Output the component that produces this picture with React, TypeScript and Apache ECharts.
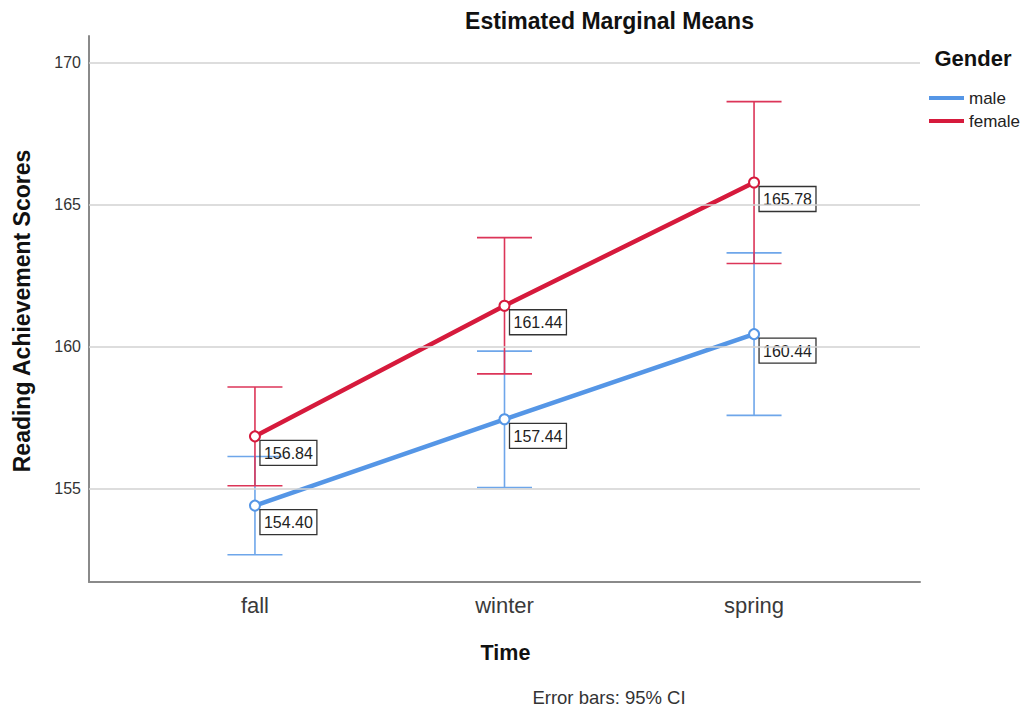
import React, { useEffect, useRef } from "react";
import * as echarts from "echarts";

const categories = ["fall", "winter", "spring"];
const categoryIndex = [0, 1, 2];
const maleMeans = [154.4, 157.44, 160.44];
const femaleMeans = [156.84, 161.44, 165.78];
const maleLower = [152.67, 155.04, 157.58];
const maleUpper = [156.13, 159.84, 163.3];
const femaleLower = [155.1, 159.04, 162.93];
const femaleUpper = [158.58, 163.84, 168.63];
const yTicks = [155, 160, 165, 170];

const MALE = "#5596e6";
const FEMALE = "#d61a3c";
const MALE_ERR = "#6ea6ea";
const FEMALE_ERR = "#dc3558";
const FONT = "'Liberation Sans', Arial, sans-serif";

function errorSeries(name: string, lower: number[], upper: number[], color: string) {
  return {
    type: "custom",
    name: name + " CI",
    silent: true,
    z: 2,
    data: categoryIndex.map((x, i) => [x, lower[i], upper[i]]),
    renderItem: (params: any, api: any) => {
      const x = api.value(0);
      const lo = api.coord([x, api.value(1)]);
      const hi = api.coord([x, api.value(2)]);
      const w = 27.5;
      const style = { stroke: color, lineWidth: 1.6 };
      return {
        type: "group",
        children: [
          { type: "line", shape: { x1: lo[0], y1: lo[1], x2: hi[0], y2: hi[1] }, style },
          { type: "line", shape: { x1: hi[0] - w, y1: hi[1], x2: hi[0] + w, y2: hi[1] }, style },
          { type: "line", shape: { x1: lo[0] - w, y1: lo[1], x2: lo[0] + w, y2: lo[1] }, style },
        ],
      };
    },
  };
}

function meanSeries(name: string, means: number[], color: string) {
  return {
    type: "line",
    name,
    z: 3,
    color,
    data: categoryIndex.map((x, i) => [x, means[i]]),
    symbol: "emptyCircle",
    symbolSize: 10,
    lineStyle: { width: 4.5, color },
    itemStyle: { color, borderWidth: 1.5 },
    label: {
      show: true,
      position: [11, 10],
      formatter: (p: any) => p.value[1].toFixed(2),
      fontFamily: FONT,
      fontSize: 16,
      color: "#222",
      borderColor: "#333",
      borderWidth: 1.3,
      padding: [5, 4, 4, 4],
    },
  };
}

export default function App() {
  const ref = useRef<HTMLDivElement>(null);
  useEffect(() => {
    if (!ref.current) return;
    const chart = echarts.init(ref.current, undefined, { renderer: "svg" });
    chart.setOption({
      animation: false,
      backgroundColor: "#fff",
      grid: { left: 89, right: 101, top: 36, bottom: 127 },
      xAxis: {
        type: "value",
        min: -0.665,
        max: 2.665,
        axisLine: { show: true, onZero: false, lineStyle: { color: "#8a8a8a", width: 2 } },
        axisTick: { show: false },
        splitLine: { show: false },
        axisLabel: {
          customValues: categoryIndex,
          formatter: (v: number) => categories[Math.round(v)] ?? "",
          fontFamily: FONT,
          fontSize: 22,
          color: "#3a3a3a",
          margin: 12,
        },
      },
      yAxis: {
        type: "value",
        min: 151.71,
        max: 170.94,
        axisLine: { show: true, onZero: false, lineStyle: { color: "#8a8a8a", width: 2 } },
        axisTick: { show: false },
        splitLine: { show: false },
        axisLabel: {
          customValues: yTicks,
          fontFamily: FONT,
          fontSize: 16,
          color: "#333",
          margin: 8,
        },
      },
      legend: {
        orient: "vertical",
        left: 924,
        top: 83,
        icon: "rect",
        itemWidth: 35,
        itemHeight: 4,
        itemGap: 3,
        data: [
          { name: "male", itemStyle: { color: MALE } },
          { name: "female", itemStyle: { color: FEMALE } },
        ],
        textStyle: { fontFamily: FONT, fontSize: 17, lineHeight: 20, color: "#222" },
      },
      graphic: [
        {
          type: "text",
          x: 609.5,
          y: 21,
          style: {
            text: "Estimated Marginal Means",
            fontFamily: FONT,
            fontSize: 23,
            fontWeight: "bold",
            fill: "#111",
            align: "center",
            verticalAlign: "middle",
          },
        },
        {
          type: "text",
          x: 22,
          y: 311,
          rotation: Math.PI / 2,
          style: {
            text: "Reading Achievement Scores",
            fontFamily: FONT,
            fontSize: 23,
            fontWeight: "bold",
            fill: "#111",
            align: "center",
            verticalAlign: "middle",
          },
        },
        {
          type: "text",
          x: 505.5,
          y: 653,
          style: {
            text: "Time",
            fontFamily: FONT,
            fontSize: 21.5,
            fontWeight: "bold",
            fill: "#111",
            align: "center",
            verticalAlign: "middle",
          },
        },
        {
          type: "text",
          x: 609,
          y: 697,
          style: {
            text: "Error bars: 95% CI",
            fontFamily: FONT,
            fontSize: 18.5,
            fill: "#333",
            align: "center",
            verticalAlign: "middle",
          },
        },
        {
          type: "text",
          x: 973,
          y: 58,
          style: {
            text: "Gender",
            fontFamily: FONT,
            fontSize: 22,
            fontWeight: "bold",
            fill: "#111",
            align: "center",
            verticalAlign: "middle",
          },
        },
      ],
      series: [
        {
          type: "line",
          name: "grid",
          data: [],
          z: 1,
          silent: true,
          markLine: {
            silent: true,
            symbol: "none",
            label: { show: false },
            lineStyle: { color: "#d2d2d2", type: "solid", width: 1.6 },
            data: yTicks.map((v) => ({ yAxis: v })),
          },
        },
        errorSeries("male", maleLower, maleUpper, MALE_ERR),
        errorSeries("female", femaleLower, femaleUpper, FEMALE_ERR),
        meanSeries("male", maleMeans, MALE),
        meanSeries("female", femaleMeans, FEMALE),
      ],
    });
    return () => chart.dispose();
  }, []);
  return (
    <div
      ref={ref}
      style={{ position: "fixed", left: 0, top: 0, width: 1021, height: 709 }}
    />
  );
}
